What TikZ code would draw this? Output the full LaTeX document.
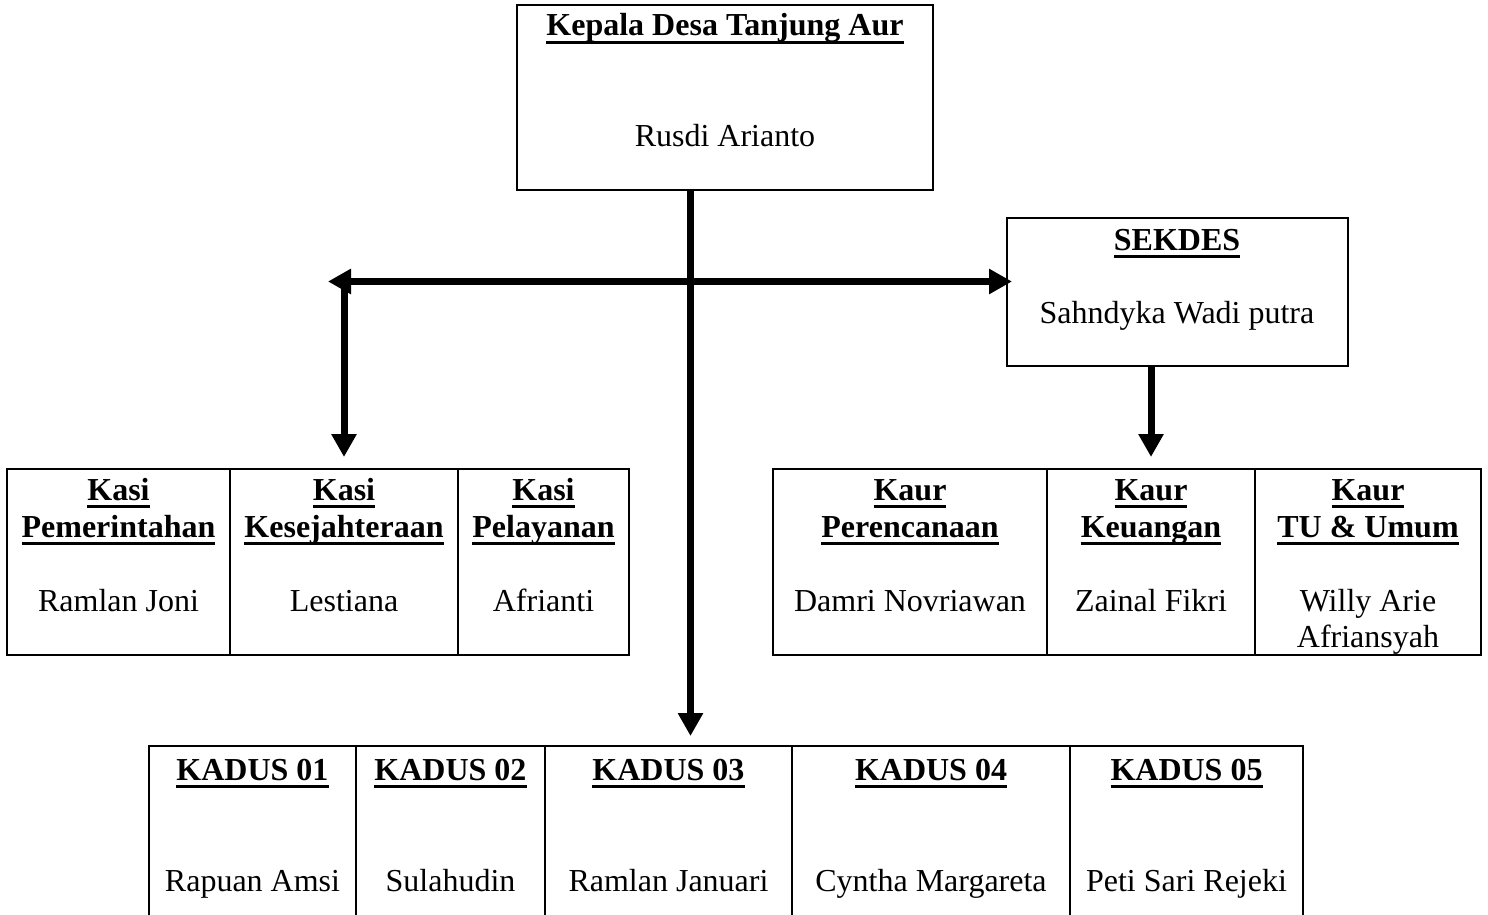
\documentclass[tikz,border=0pt]{standalone}
\usepackage{fontspec}
\setmainfont{Liberation Serif}
\usetikzlibrary{arrows.meta,fit}
\newcommand\myul[1]{\setbox0\hbox{#1}\rlap{\vrule width \wd0 height -2.6pt depth 4.1pt}\box0}
\tikzset{
  box/.style={draw, line width=1pt, inner sep=0pt, rectangle},
  lbl/.style={anchor=base, inner sep=0pt, font=\fontsize{16}{18.5}\selectfont},
  ttl/.style={lbl, font=\fontsize{16}{18.5}\selectfont\bfseries},
  arr/.style={line width=3.5pt, -{Triangle[width=12pt,length=11.5pt]}},
  bar/.style={line width=3.5pt}
}
\begin{document}
\begin{tikzpicture}[x=0.5pt,y=-0.5pt]
\useasboundingbox (0,0) rectangle (1488,915);
\clip (0,0) rectangle (1488,915);
% boxes
\node[box, fit={(517,5) (933,190)}] (kepala) {};
\node[box, fit={(1007,218) (1348,366)}] (sekdes) {};
\node[box, fit={(7,469) (230,655)}] (kasi1) {};
\node[box, fit={(230,469) (458,655)}] (kasi2) {};
\node[box, fit={(458,469) (629,655)}] (kasi3) {};
\node[box, fit={(773,469) (1047,655)}] (kaur1) {};
\node[box, fit={(1047,469) (1255,655)}] (kaur2) {};
\node[box, fit={(1255,469) (1481,655)}] (kaur3) {};
\node[box, fit={(149,746) (356,940)}] (kadus1) {};
\node[box, fit={(356,746) (545,940)}] (kadus2) {};
\node[box, fit={(545,746) (792,940)}] (kadus3) {};
\node[box, fit={(792,746) (1070,940)}] (kadus4) {};
\node[box, fit={(1070,746) (1303,940)}] (kadus5) {};
% texts
\node[ttl] (kepalaT) at (725,36) {\myul{Kepala Desa Tanjung Aur}};
\node[lbl] (kepalaN) at (725,147) {Rusdi Arianto};
\node[ttl] (sekdesT) at (1177,250) {\myul{SEKDES}};
\node[lbl] (sekdesN) at (1177,323) {Sahndyka Wadi putra};
\node[ttl] (kasi1a) at (118.5,500) {\myul{Kasi}};
\node[ttl] (kasi1b) at (118.5,537) {\myul{Pemerintahan}};
\node[lbl] (kasi1N) at (118.5,611) {Ramlan Joni};
\node[ttl] (kasi2a) at (344,500) {\myul{Kasi}};
\node[ttl] (kasi2b) at (344,537) {\myul{Kesejahteraan}};
\node[lbl] (kasi2N) at (344,611) {Lestiana};
\node[ttl] (kasi3a) at (543.5,500) {\myul{Kasi}};
\node[ttl] (kasi3b) at (543.5,537) {\myul{Pelayanan}};
\node[lbl] (kasi3N) at (543.5,611) {Afrianti};
\node[ttl] (kaur1a) at (910,500) {\myul{Kaur}};
\node[ttl] (kaur1b) at (910,537) {\myul{Perencanaan}};
\node[lbl] (kaur1N) at (910,611) {Damri Novriawan};
\node[ttl] (kaur2a) at (1151,500) {\myul{Kaur}};
\node[ttl] (kaur2b) at (1151,537) {\myul{Keuangan}};
\node[lbl] (kaur2N) at (1151,611) {Zainal Fikri};
\node[ttl] (kaur3a) at (1368,500) {\myul{Kaur}};
\node[ttl] (kaur3b) at (1368,537) {\myul{TU \& Umum}};
\node[lbl] (kaur3N) at (1368,611) {Willy Arie};
\node[lbl] (kaur3M) at (1368,647) {Afriansyah};
\node[ttl] (kadus1T) at (252.5,780) {\myul{KADUS 01}};
\node[lbl] (kadus1N) at (252.5,891) {Rapuan Amsi};
\node[ttl] (kadus2T) at (450.5,780) {\myul{KADUS 02}};
\node[lbl] (kadus2N) at (450.5,891) {Sulahudin};
\node[ttl] (kadus3T) at (668.5,780) {\myul{KADUS 03}};
\node[lbl] (kadus3N) at (668.5,891) {Ramlan Januari};
\node[ttl] (kadus4T) at (931,780) {\myul{KADUS 04}};
\node[lbl] (kadus4N) at (931,891) {Cyntha Margareta};
\node[ttl] (kadus5T) at (1186.5,780) {\myul{KADUS 05}};
\node[lbl] (kadus5N) at (1186.5,891) {Peti Sari Rejeki};
% connectors
\coordinate (jx) at (690.5,281.5);
\coordinate (hm) at (738,281.5);
\coordinate (ltip) at (328,281.5);
\draw[arr, shorten >=4.5pt] (kepala.south -| jx) -- (jx |- kadus3.north);
\draw[arr] (hm) -- (ltip);
\draw[arr, shorten >=-3pt] (hm) -- (hm -| sekdes.west);
\draw[arr, shorten >=5.5pt] (kasi2.north |- hm) -- (kasi2.north);
\draw[arr, shorten >=5.5pt] (sekdes.south -| kaur2.north) -- (kaur2.north);
\end{tikzpicture}
\end{document}
